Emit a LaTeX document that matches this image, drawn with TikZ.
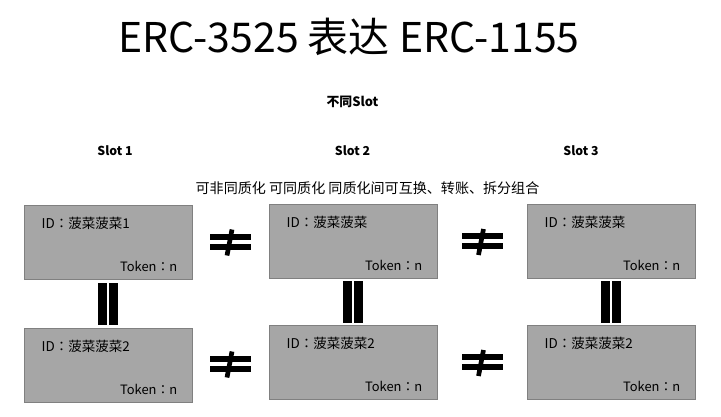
\documentclass[tikz,border=0pt]{standalone}
\usepackage{fontspec}
\setmainfont{Noto Sans CJK SC}
\newfontfamily\tcfont{Noto Sans CJK TC}
\newcommand{\fwcolon}{{\tcfont ：}}
\usetikzlibrary{calc}

\tikzset{
  slotbox/.style={draw=black!50, fill=black!35, line width=0.7pt,
    minimum width=5.04cm, minimum height=2.22cm, inner sep=0pt},
  idtext/.style={anchor=base west, font=\fontsize{11.5}{13}\selectfont},
  tokentext/.style={anchor=base east, font=\fontsize{11}{13}\selectfont},
  headtext/.style={anchor=base, font=\bfseries\fontsize{10.5}{12}\selectfont},
  eqbars/.pic={
    \fill[black] (-10,-21) rectangle (-1,21);
    \fill[black] (1,-21) rectangle (10,21);
  },
  neqsign/.pic={
    \fill[black] (-20.5,-8) rectangle (20.5,-2);
    \fill[black] (-20.5,2) rectangle (20.5,8);
    \draw[black, line width=4pt] (1.5,-12) -- (-3.5,14);
  },
}

\begin{document}
\begin{tikzpicture}[x=0.03cm, y=-0.03cm]
    \useasboundingbox (0,0) rectangle (721,417);

    % Title and headings
    \node[anchor=base, font=\fontsize{35}{40}\selectfont] (title) at (349,52) {ERC-3525 表达 ERC-1155};
    \node[headtext, font=\bfseries\fontsize{11}{13}\selectfont] (diff) at (352.5,106) {不同Slot};
    \node[headtext] (slot1) at (115,155) {Slot 1};
    \node[headtext] (slot2) at (352.5,155) {Slot 2};
    \node[headtext] (slot3) at (581,155) {Slot 3};
    \node[anchor=base, font=\fontsize{12}{14}\selectfont] (note) at (367.5,193)
        {可非同质化 可同质化 同质化间可互换、转账、拆分组合};

    % Token boxes, top row
    \node[slotbox] (a1) at (108,242) {};
    \node[slotbox] (b1) at (353,241) {};
    \node[slotbox] (c1) at (611,241) {};

    % Token boxes, bottom row
    \node[slotbox] (a2) at (108,365) {};
    \node[slotbox] (b2) at (353,362) {};
    \node[slotbox] (c2) at (611,362) {};

    % Box texts
    \node[idtext] (a1id) at ([shift={(14,24)}]a1.north west) {ID\fwcolon 菠菜菠菜1};
    \node[idtext] (b1id) at ([shift={(14,24)}]b1.north west) {ID\fwcolon 菠菜菠菜};
    \node[idtext] (c1id) at ([shift={(14,24)}]c1.north west) {ID\fwcolon 菠菜菠菜};
    \node[idtext] (a2id) at ([shift={(14,24)}]a2.north west) {ID\fwcolon 菠菜菠菜2};
    \node[idtext] (b2id) at ([shift={(14,24)}]b2.north west) {ID\fwcolon 菠菜菠菜2};
    \node[idtext] (c2id) at ([shift={(14,24)}]c2.north west) {ID\fwcolon 菠菜菠菜2};
    \foreach \b in {a1,b1,c1,a2,b2,c2}
        \node[tokentext] (\b tok) at ([shift={(-11,-8)}]\b.south east) {Token\fwcolon n};

    % Not equal signs between slots
    \pic at ($(a1.east)!0.5!(b1.west)$) {neqsign};
    \pic at ($(b1.east)!0.5!(c1.west)$) {neqsign};
    \pic at ($(a2.east)!0.5!(b2.west)$) {neqsign};
    \pic at ($(b2.east)!0.5!(c2.west)$) {neqsign};

    % Equal bars within a slot
    \pic at ($(a1.south)!0.5!(a2.north)$) {eqbars};
    \pic at ($(b1.south)!0.5!(b2.north)$) {eqbars};
    \pic at ($(c1.south)!0.5!(c2.north)$) {eqbars};

\end{tikzpicture}
\end{document}
